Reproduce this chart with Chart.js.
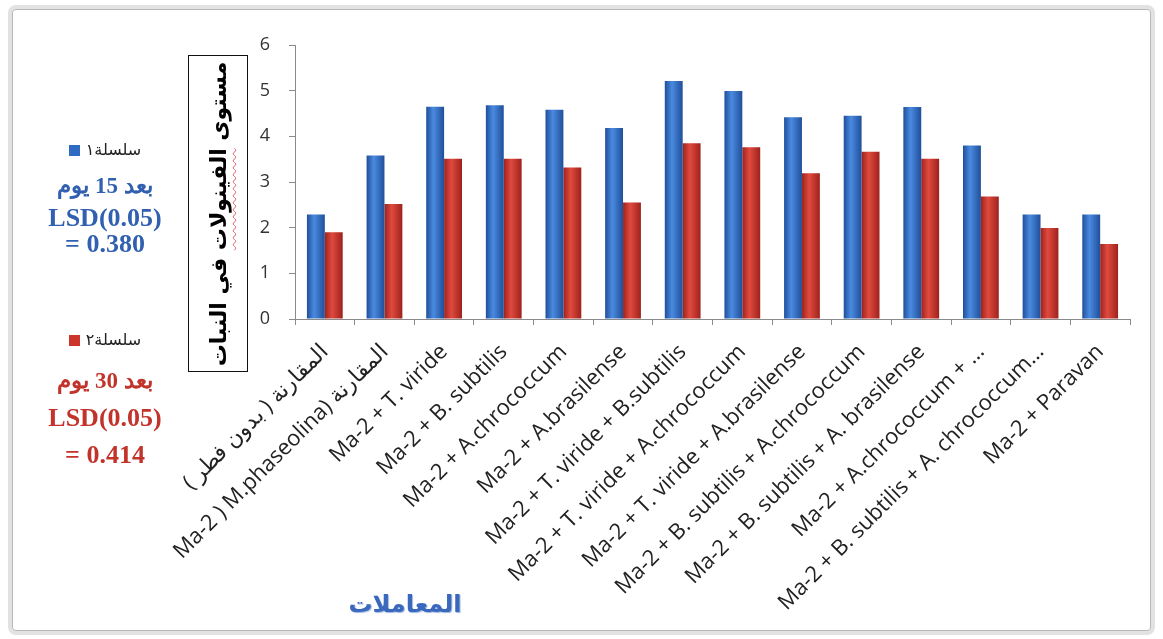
<!DOCTYPE html>
<html>
<head>
<meta charset="utf-8">
<script src="https://cdn.jsdelivr.net/npm/chart.js@4.4.1/dist/chart.umd.min.js"></script>
<style>
  body { margin: 0; background: #fff; width: 1163px; height: 639px; overflow: hidden; position: relative; font-family: "Open Sans", sans-serif; }
  #frame { position: absolute; left: 8px; top: 5px; width: 1139px; height: 622px; border: 4px solid #e2e2e2; border-radius: 8px; box-shadow: inset 0 0 0 1px #b8b8b8; }
  #chart-wrap { position: absolute; left: 0; top: 0; width: 1163px; height: 639px; }
  .legend-line { position: absolute; left: 20px; width: 170px; text-align: center; font-family: "Liberation Serif", serif; font-weight: bold; white-space: nowrap; }
  .series-name { position: absolute; left: 20px; width: 170px; text-align: center; font-family: "DejaVu Sans", sans-serif; font-size: 16px; color: #222; }
  .series-name span.box { display: inline-block; width: 11px; height: 11px; margin-right: 6px; vertical-align: middle; }
  #y-title { position: absolute; left: 188px; top: 55px; width: 60px; height: 317px; border: 1.5px solid #111; box-sizing: border-box; }
  #y-title div { position: absolute; left: 50%; top: 50%; transform: translate(-50%, -50%) rotate(-90deg); white-space: nowrap; font-family: "DejaVu Sans", sans-serif; font-weight: bold; font-size: 22px; color: #000; }
  #y-title .wavy { text-decoration: underline wavy #e05a6a; text-decoration-thickness: 1px; text-underline-offset: 6px; }
  #x-title { position: absolute; left: 330px; top: 590px; width: 150px; text-align: center; font-family: "DejaVu Sans", sans-serif; font-weight: bold; font-size: 24px; color: #3a68bd; text-shadow: 1px 1px 1px #9db5de; }
</style>
</head>
<body>
<div id="frame"></div>
<div id="chart-wrap"><canvas id="phenol-chart" width="1163" height="639"></canvas></div>
<div id="legend"></div>
<div id="y-title"><div dir="rtl">مستوى <span class="wavy">الفينولات</span> في النبات</div></div>
<div id="x-title" dir="rtl">المعاملات</div>
<script>
// second label is written in the order the original shows it
const treatments = [
    "\u202Bالمقارنة ( بدون فطر )\u202C",
    "Ma-2 ) M.phaseolina) المقارنة",
    "Ma-2 + T. viride",
    "Ma-2 + B. subtilis",
    "Ma-2 + A.chrococcum",
    "Ma-2 + A.brasilense",
    "Ma-2 + T. viride + B.subtilis",
    "Ma-2 + T. viride + A.chrococcum",
    "Ma-2 + T. viride + A.brasilense",
    "Ma-2 + B. subtilis + A.chrococcum",
    "Ma-2 + B. subtilis + A. brasilense",
    "Ma-2 + A.chrococcum + …",
    "Ma-2 + B. subtilis + A. chrococcum…",
    "Ma-2 + Paravan"
];
const seriesNames = ["سلسلة١", "سلسلة٢"];
const after15Days = [2.29, 3.58, 4.65, 4.68, 4.58, 4.18, 5.21, 4.99, 4.42, 4.45, 4.64, 3.80, 2.29, 2.29];
const after30Days = [1.90, 2.52, 3.51, 3.51, 3.32, 2.55, 3.85, 3.76, 3.19, 3.66, 3.51, 2.68, 1.99, 1.64];
const yTicks = [0, 1, 2, 3, 4, 5, 6];
const lsdNotes = [
    ["بعد 15 يوم", "LSD(0.05)", "= 0.380"],
    ["بعد 30 يوم", "LSD(0.05)", "= 0.414"]
];

const blueBase = '#2f6bc2';
const redBase = '#cc352c';

// horizontal gradient so bars look a bit like cylinders
function cylinder(base, dark, light, side) {
    return (context) => {
        const chart = context.chart;
        const xScale = chart.scales.x;
        if (!xScale || context.type !== 'data' || !(xScale.width > 0)) return base;
        const center = xScale.getPixelForValue(context.dataIndex);
        const w = xScale.width / treatments.length * 0.6 / 2;
        const x0 = side < 0 ? center - w : center;
        if (!isFinite(x0) || !isFinite(w)) return base;
        const g = chart.ctx.createLinearGradient(x0, 0, x0 + w, 0);
        g.addColorStop(0, dark);
        g.addColorStop(0.4, light);
        g.addColorStop(1, dark);
        return g;
    };
}

const ctx = document.getElementById('phenol-chart').getContext('2d');
const chart = new Chart(ctx, {
    type: 'bar',
    data: {
        labels: treatments,
        datasets: [{
            label: seriesNames[0],
            data: after15Days,
            backgroundColor: cylinder(blueBase, '#1f4f9a', '#4a8ae0', -1),
            borderWidth: 0
        }, {
            label: seriesNames[1],
            data: after30Days,
            backgroundColor: cylinder(redBase, '#9e221c', '#e04a3e', 1),
            borderWidth: 0
        }]
    },
    options: {
        responsive: false,
        animation: false,
        layout: {
            padding: { left: 250, top: 45, right: 33, bottom: 0 }
        },
        plugins: {
            legend: { display: false },
            tooltip: { enabled: false }
        },
        datasets: {
            bar: { categoryPercentage: 0.6, barPercentage: 1.0 }
        },
        scales: {
            x: {
                afterFit: (scale) => { scale.height = 320; },
                grid: { drawOnChartArea: false, color: '#8a8a8a', tickLength: 6, offset: true },
                border: { color: '#8a8a8a', width: 1 },
                ticks: {
                    autoSkip: false,
                    minRotation: 45,
                    maxRotation: 45,
                    padding: 14,
                    color: '#222',
                    font: { family: 'Open Sans', size: 22 }
                }
            },
            y: {
                min: 0,
                max: 6,
                afterFit: (scale) => { scale.width = 45; },
                afterBuildTicks: (scale) => { scale.ticks = yTicks.map(v => ({ value: v })); },
                grid: { drawOnChartArea: false, color: '#8a8a8a', tickLength: 6 },
                border: { color: '#8a8a8a', width: 1 },
                ticks: {
                    color: '#333',
                    padding: 19,
                    font: { family: 'Open Sans', size: 18 }
                }
            }
        }
    }
});

// side legend with the LSD notes
const legendTops = [[140, 172, 203, 229], [330, 367, 403, 440]];
const legendColors = ['#3160b0', '#c2332b'];
const legendDiv = document.getElementById('legend');
chart.data.datasets.forEach((ds, i) => {
    const name = document.createElement('div');
    name.className = 'series-name';
    name.style.top = legendTops[i][0] + 'px';
    name.innerHTML = `<span class="box" style="background:${i === 0 ? blueBase : redBase}"></span><span dir="rtl">${ds.label}</span>`;
    legendDiv.appendChild(name);
    lsdNotes[i].forEach((txt, j) => {
        const line = document.createElement('div');
        line.className = 'legend-line';
        line.style.top = legendTops[i][j + 1] + 'px';
        line.style.color = legendColors[i];
        line.style.fontSize = j === 0 ? '23px' : '26px';
        if (j === 0) line.dir = 'rtl';
        line.innerText = txt;
        legendDiv.appendChild(line);
    });
});
</script>
</body>
</html>
